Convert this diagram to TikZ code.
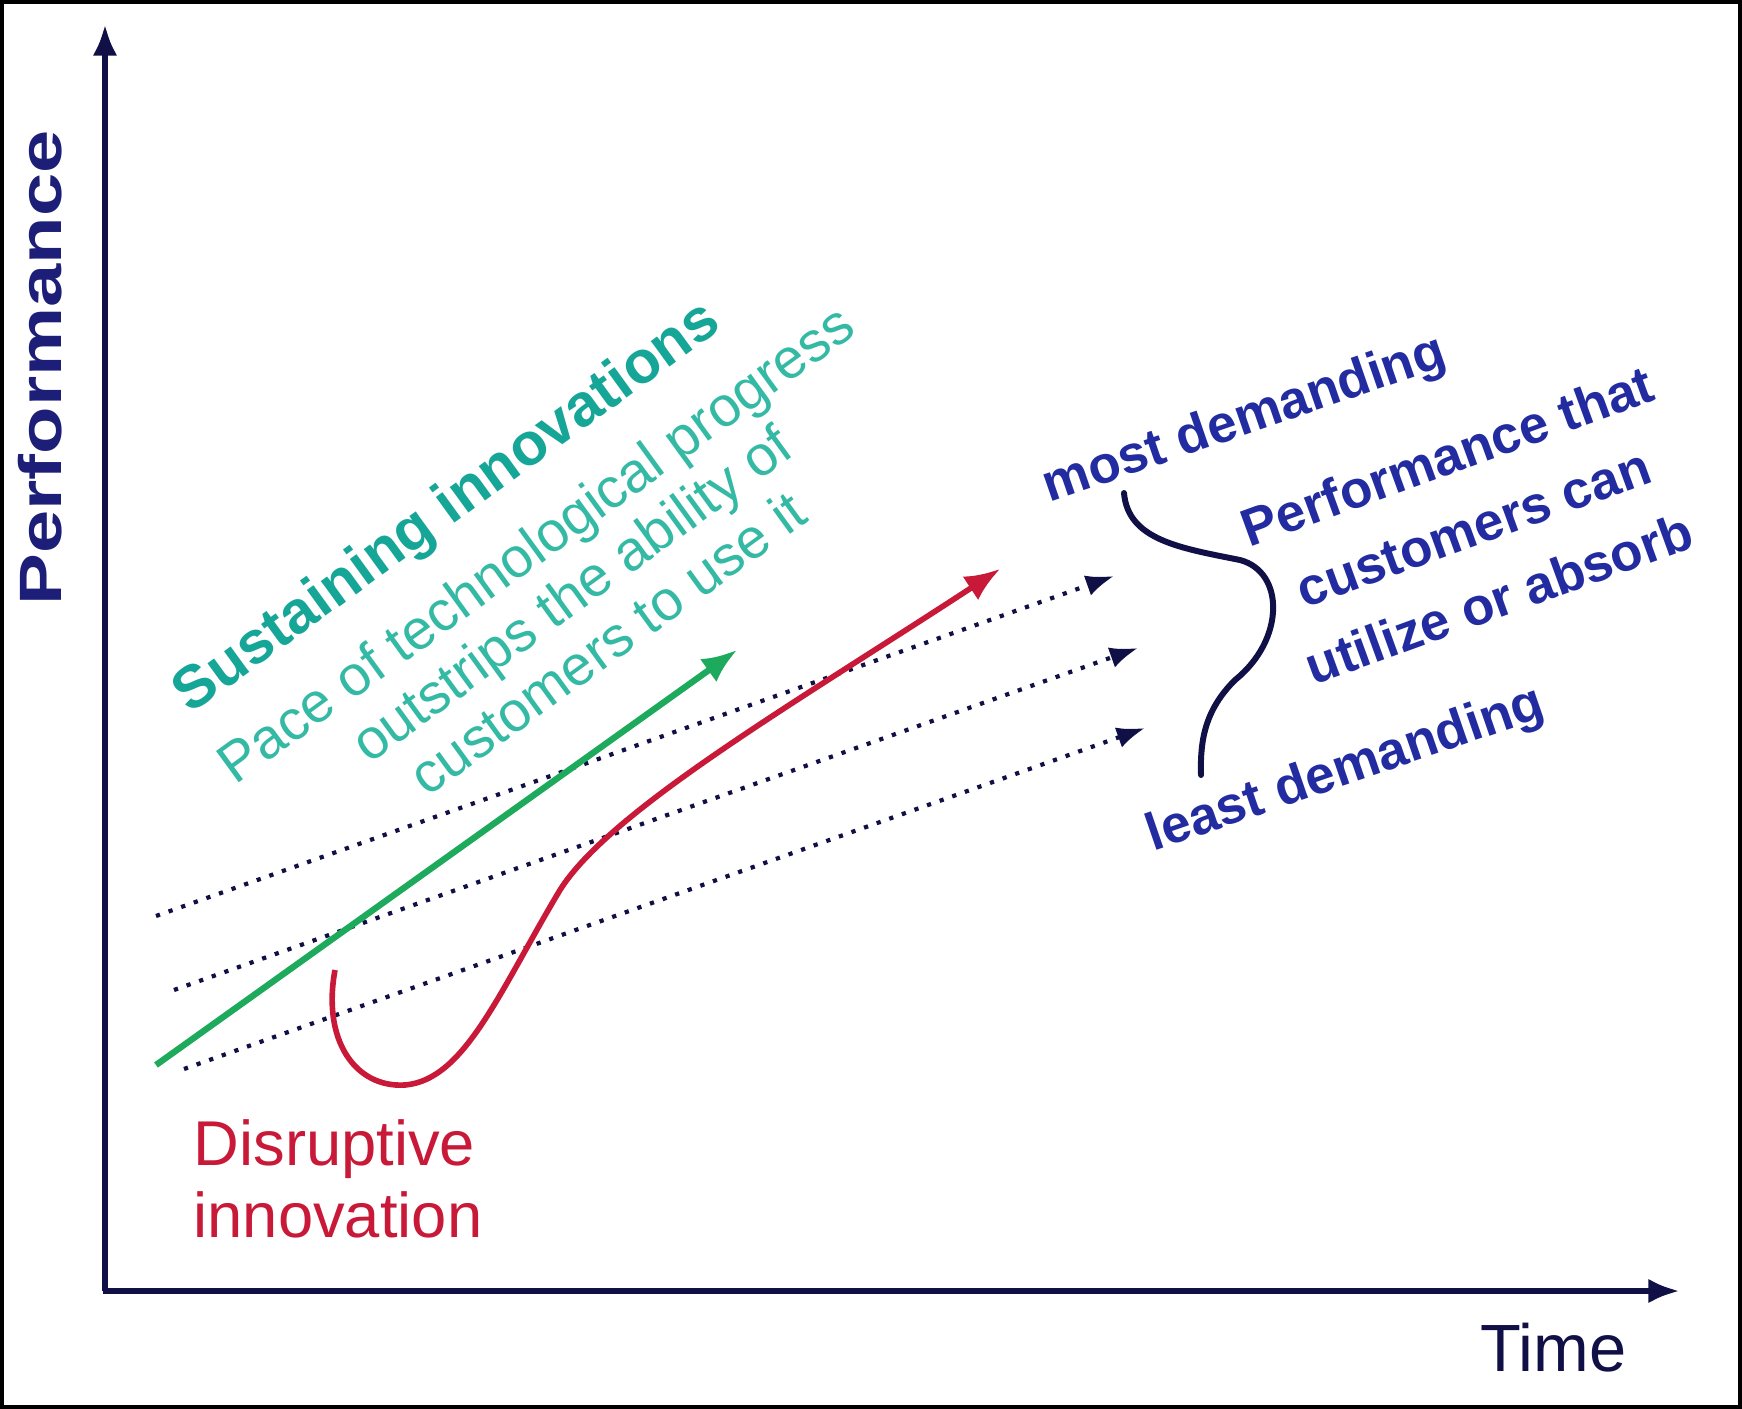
\documentclass[tikz,border=0pt]{standalone}
\usepackage{fontspec}
\setmainfont{Liberation Sans}
\usepackage{xcolor}
\usetikzlibrary{arrows.meta,positioning}
\definecolor{navyline}{RGB}{16,16,70}
\definecolor{navytext}{RGB}{28,30,120}
\definecolor{custblue}{RGB}{34,44,160}
\definecolor{sustteal}{RGB}{22,166,152}
\definecolor{paceteal}{RGB}{52,186,164}
\definecolor{sustgreen}{RGB}{30,170,92}
\definecolor{disred}{RGB}{200,26,56}

\begin{document}
\begin{tikzpicture}[x=0.01cm, y=-0.01cm,
    axisline/.style={draw=navyline, line width=1.8pt, -{Latex[length=9pt,width=7pt]}},
    demand/.style={draw=navyline, line width=1.2pt, dash pattern=on 1.2pt off 2.6pt, -{Latex[length=8pt,width=6pt]}},
    sustarrow/.style={draw=sustgreen, line width=1.8pt, -{Latex[length=10pt,width=8pt]}},
    disrupt/.style={draw=disred, line width=1.6pt, -{Latex[length=10pt,width=8pt]}},
    brace/.style={draw=navyline, line width=1.7pt, line cap=round},
    perflabel/.style={text=navytext, font=\fontsize{17}{19}\selectfont\bfseries, inner sep=0pt},
    timelabel/.style={text=navyline, font=\fontsize{19}{21}\selectfont, inner sep=0pt},
    sustain/.style={text=sustteal, font=\fontsize{17}{19}\selectfont\bfseries, inner sep=0pt},
    pace/.style={text=paceteal, font=\fontsize{16}{17.5}\selectfont, align=center, inner sep=0pt},
    custtext/.style={text=custblue, font=\fontsize{15}{21.5}\selectfont\bfseries, align=center, inner sep=0pt},
    disrlabel/.style={text=disred, font=\fontsize{18}{20.5}\selectfont, align=left, inner sep=0pt}
]
\useasboundingbox (0,0) rectangle (1742,1409);
\draw[black, line width=1.2pt] (2,2) rectangle (1740,1407);

% 軸
\coordinate (O) at (105,1291);
\coordinate (xstart) at (103,1291);
\coordinate (ytip) at (105,24);
\coordinate (xtip) at (1680,1291);
\draw[axisline] (O) -- (ytip);
\draw[axisline] (xstart) -- (xtip);
\node[perflabel, rotate=90, xscale=1.3] (perf) at (40,368) {Performance};
\node[timelabel, below left=0.31cm and 0.53cm of xtip, anchor=north east] (time) {Time};

% 顧客の需要
\coordinate (d1a) at (156,916);
\coordinate (d1b) at (1114,576);
\coordinate (d2a) at (174,990);
\coordinate (d2b) at (1138,648);
\coordinate (d3a) at (184,1069);
\coordinate (d3b) at (1145,728);
\draw[demand] (d1a) -- (d1b);
\draw[demand] (d2a) -- (d2b);
\draw[demand] (d3a) -- (d3b);

% 持続的イノベーション
\coordinate (g0) at (156,1065);
\coordinate (g1) at (737,650);
\draw[sustarrow] (g0) -- (g1);
\node[sustain, rotate=36] (sust) at (448,509) {Sustaining innovations};
\node[pace, rotate=36] (pace) at (571,593) {Pace of technological progress\\outstrips the ability of\\customers to use it};

% 破壊的イノベーション
\coordinate (r0) at (335,970);
\coordinate (r1) at (405,1085);
\coordinate (r2) at (560,890);
\coordinate (r3) at (1000,569);
\draw[disrupt] (r0) .. controls (322,1040) and (355,1088) .. (r1)
    .. controls (465,1080) and (500,990) .. (r2)
    .. controls (610,810) and (800,700) .. (r3);
\node[disrlabel, anchor=north west] (dis) at (193,1119) {Disruptive\\innovation};

% 顧客が使える性能
\coordinate (b0) at (1124,493);
\coordinate (b1) at (1240,560);
\coordinate (b2) at (1235,680);
\coordinate (b3) at (1201,775);
\draw[brace] (b0) .. controls (1128,540) and (1180,548) .. (b1)
    .. controls (1285,572) and (1285,640) .. (b2)
    .. controls (1205,710) and (1200,740) .. (b3);
\node[custtext, rotate=19] (most) at (1245,421) {most demanding};
\node[custtext, rotate=19] (least) at (1346,771) {least demanding};
\node[custtext, rotate=20] (absorb) at (1473,527) {Performance that\\customers can\\utilize or absorb};
\end{tikzpicture}
\end{document}
